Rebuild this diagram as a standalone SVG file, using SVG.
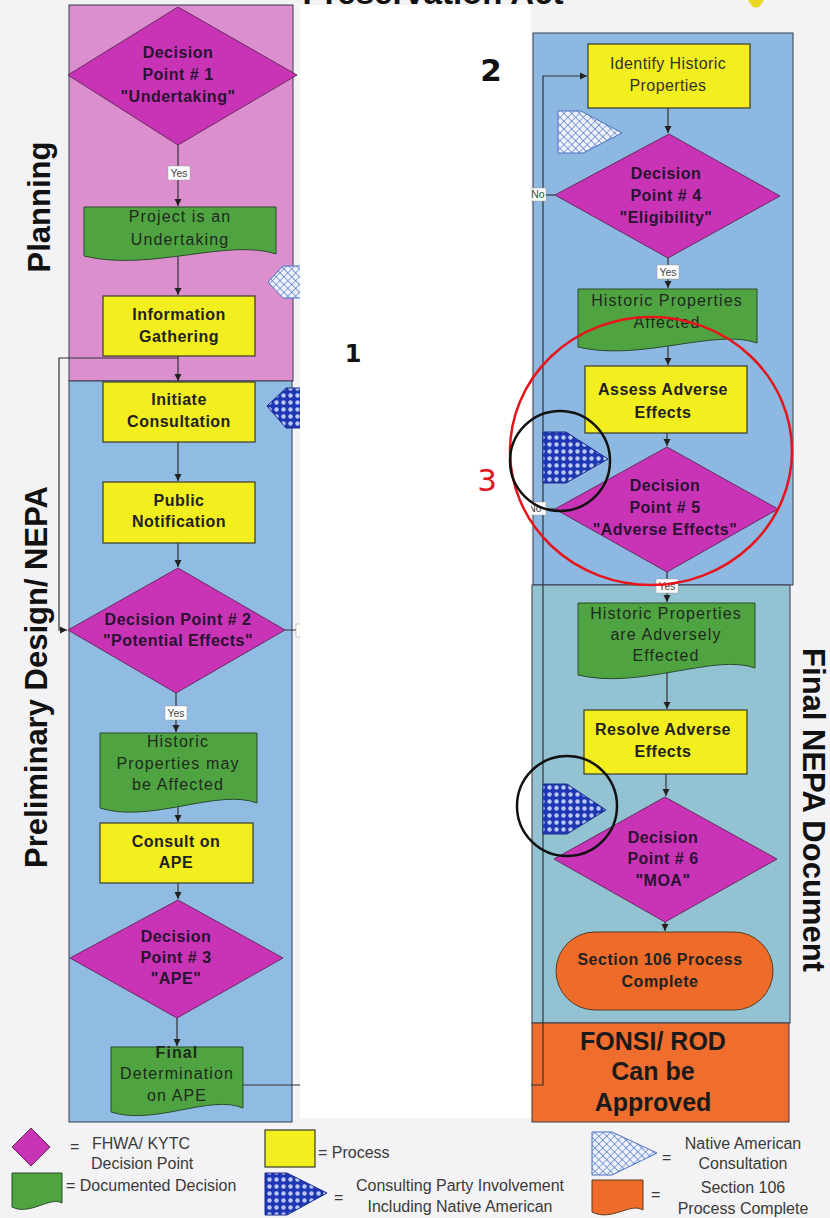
<svg xmlns="http://www.w3.org/2000/svg" width="830" height="1218" viewBox="0 0 830 1218">
<style>
.panel{stroke:#3a3a4a;stroke-width:1}
.dia{fill:#c934b6;stroke:#6a2a60;stroke-width:1}
.proc{fill:#f3ee1e;stroke:#3a3a2a;stroke-width:1.2}
.doc{fill:#4fa441;stroke:#2a4a2a;stroke-width:1}
.term{fill:#ef6b2a;stroke:#5a3a20;stroke-width:1}
.t{font-family:'Liberation Sans',Arial,sans-serif;text-anchor:middle}
.td{font-size:16px;font-weight:bold;fill:#2a1232;letter-spacing:0.5px}
.tp{font-size:16px;font-weight:bold;fill:#222;letter-spacing:0.5px}
.tr{font-size:16px;fill:#1e2a1e;letter-spacing:1.1px}
.lane{font-family:'Liberation Sans',Arial,sans-serif;font-weight:bold;font-size:31px;fill:#111;text-anchor:middle}
.con{fill:none;stroke:#333;stroke-width:1.2}
.lbl{fill:#fff;stroke:#999;stroke-width:0.5}
.lt{font-family:'Liberation Sans',Arial,sans-serif;font-size:10.5px;fill:#444;text-anchor:middle}
.leg{font-family:'Liberation Sans',Arial,sans-serif;font-size:16px;fill:#3a3a3a}
.na{fill:url(#naPat);stroke:#4a70c0;stroke-width:1}
.cp{fill:url(#cpPat);stroke:#1a2a8a;stroke-width:1}
</style>
<defs>
<marker id="ah" markerWidth="8" markerHeight="8" refX="7" refY="4" orient="auto" markerUnits="userSpaceOnUse">
<path d="M0,0.5 L7,4 L0,7.5 Z" fill="#222"/>
</marker>
<pattern id="naPat" width="5.5" height="5.5" patternUnits="userSpaceOnUse" patternTransform="rotate(45)">
<rect width="5.5" height="5.5" fill="#eef2fc"/>
<path d="M0,0 H5.5 M0,0 V5.5" stroke="#4f74c6" stroke-width="1.2"/>
</pattern>
<pattern id="cpPat" width="7" height="7" patternUnits="userSpaceOnUse">
<rect width="7" height="7" fill="#1e36b2"/>
<circle cx="3.5" cy="3.5" r="2.2" fill="#b9c8f2"/>
</pattern>
</defs>

<rect x="0" y="0" width="830" height="1218" fill="#f3f2f4"/>

<g id="panels">
<rect class="panel" x="69" y="5" width="224" height="376" fill="#db8fcf"/>
<rect class="panel" x="69" y="381" width="223" height="741" fill="#90bce4"/>
<rect class="panel" x="533" y="33" width="260" height="552" fill="#8cb8e1"/>
<rect class="panel" x="532" y="585" width="258" height="438" fill="#93c3d3"/>
<rect class="panel" x="532" y="1023" width="257" height="99" fill="#ef6e2e"/>
</g>

<g id="lane-labels">
<text class="lane" transform="translate(50,207) rotate(-90)">Planning</text>
<text class="lane" transform="translate(47,677) rotate(-90)">Preliminary Design/ NEPA</text>
<text class="lane" transform="translate(803,810) rotate(90)" font-size="30">Final NEPA Document</text>
</g>

<g id="connectors">
<path class="con" d="M178,145 V206" marker-end="url(#ah)"/>
<path class="con" d="M178,256 V295" marker-end="url(#ah)"/>
<path class="con" d="M178,356 V381" marker-end="url(#ah)"/>
<path class="con" d="M178,358 H59 V630 H67" marker-end="url(#ah)"/>
<path class="con" d="M178,442 V481" marker-end="url(#ah)"/>
<path class="con" d="M178,543 V567" marker-end="url(#ah)"/>
<path class="con" d="M285,630 H320"/>
<path class="con" d="M176,693 V732" marker-end="url(#ah)"/>
<path class="con" d="M178,806 V822" marker-end="url(#ah)"/>
<path class="con" d="M178,883 V899" marker-end="url(#ah)"/>
<path class="con" d="M177,1018 V1046" marker-end="url(#ah)"/>
<path class="con" d="M243,1085 H543 V76 H587" marker-end="url(#ah)"/>
<path class="con" d="M668,108 V133" marker-end="url(#ah)"/>
<path class="con" d="M555,195 H543"/>
<path class="con" d="M668,258 V288" marker-end="url(#ah)"/>
<path class="con" d="M668,340 V365" marker-end="url(#ah)"/>
<path class="con" d="M667,433 V446" marker-end="url(#ah)"/>
<path class="con" d="M555,509 H543"/>
<path class="con" d="M667,572 V602" marker-end="url(#ah)"/>
<path class="con" d="M667,672 V709" marker-end="url(#ah)"/>
<path class="con" d="M666,774 V796" marker-end="url(#ah)"/>
<path class="con" d="M665,922 V931" marker-end="url(#ah)"/>
<rect class="lbl" x="168" y="166" width="22" height="14"/><text class="lt" x="179" y="177">Yes</text>
<rect class="lbl" x="165" y="706" width="22" height="14"/><text class="lt" x="176" y="717">Yes</text>
<rect class="lbl" x="296" y="624" width="20" height="13"/><text class="lt" x="306" y="634">No</text>
<rect class="lbl" x="531" y="188" width="15" height="13"/><text class="lt" x="538" y="198">No</text>
<rect class="lbl" x="524" y="502" width="22" height="13"/><text class="lt" x="535" y="512">No</text>
<rect class="lbl" x="657" y="265" width="22" height="14"/><text class="lt" x="668" y="276">Yes</text>
<rect class="lbl" x="656" y="579" width="22" height="14"/><text class="lt" x="667" y="590">Yes</text>
</g>

<g id="dp1"><polygon class="dia" points="178,7 297,75 178,145 68,75"/>
<text class="t td" x="178" y="58">Decision</text><text class="t td" x="178" y="80">Point # 1</text><text class="t td" x="178" y="102">"Undertaking"</text></g>
<g id="project-undertaking"><path class="doc" d="M84,207 H276 V254 C228,238 150,272 84,256 Z"/>
<text class="t tr" x="180" y="222">Project is an</text><text class="t tr" x="180" y="245">Undertaking</text></g>
<g id="info-gathering"><rect class="proc" x="103" y="296" width="152" height="60"/>
<text class="t tp" x="179" y="320">Information</text><text class="t tp" x="179" y="342">Gathering</text></g>
<g id="initiate-consultation"><rect class="proc" x="103" y="382" width="152" height="60"/>
<text class="t tp" x="179" y="405">Initiate</text><text class="t tp" x="179" y="427">Consultation</text></g>
<g id="public-notification"><rect class="proc" x="103" y="482" width="152" height="61"/>
<text class="t tp" x="179" y="506">Public</text><text class="t tp" x="179" y="527">Notification</text></g>
<g id="dp2"><polygon class="dia" points="178,568 285,630 176,693 68,630"/>
<text class="t td" x="178" y="625" font-size="15">Decision Point # 2</text><text class="t td" x="178" y="646" font-size="15">"Potential Effects"</text></g>
<g id="historic-may"><path class="doc" d="M100,733 H257 V803 C218,788 150,824 100,808 Z"/>
<text class="t tr" x="178" y="747">Historic</text><text class="t tr" x="178" y="769">Properties may</text><text class="t tr" x="178" y="790">be Affected</text></g>
<g id="consult-ape"><rect class="proc" x="100" y="823" width="153" height="60"/>
<text class="t tp" x="176" y="847">Consult on</text><text class="t tp" x="176" y="868">APE</text></g>
<g id="dp3"><polygon class="dia" points="178,900 283,958 177,1018 70,958"/>
<text class="t td" x="176" y="942">Decision</text><text class="t td" x="176" y="963">Point # 3</text><text class="t td" x="176" y="984">"APE"</text></g>
<g id="final-determination"><path class="doc" d="M111,1047 H243 V1108 C210,1094 155,1126 111,1112 Z"/>
<text class="t tr" x="177" y="1058" font-weight="bold" letter-spacing="0">Final</text><text class="t tr" x="177" y="1079">Determination</text><text class="t tr" x="177" y="1101">on APE</text></g>

<g id="na-consult-1"><polygon class="na" points="268,282 283,266 330,266 330,298 283,298"/></g>
<g id="cp-involve-1"><polygon class="cp" points="267,406 286,388 330,388 330,428 286,428"/></g>

<g id="identify-historic"><rect class="proc" x="588" y="44" width="162" height="64"/>
<text class="t" x="668" y="69" font-size="16" fill="#333" letter-spacing="0.4">Identify Historic</text><text class="t" x="668" y="91" font-size="16" fill="#333" letter-spacing="0.4">Properties</text></g>
<g id="na-consult-2"><polygon class="na" points="558,111 581,111 622,133 583,153 558,153"/></g>
<g id="dp4"><polygon class="dia" points="669,134 780,196 668,258 555,195"/>
<text class="t td" x="666" y="179">Decision</text><text class="t td" x="666" y="201">Point # 4</text><text class="t td" x="666" y="223">"Eligibility"</text></g>
<g id="historic-affected"><path class="doc" d="M578,289 H757 V343 C715,328 640,362 578,347 Z"/>
<text class="t tr" x="667" y="306">Historic Properties</text><text class="t tr" x="667" y="328">Affected</text></g>
<g id="assess-adverse"><rect class="proc" x="585" y="366" width="162" height="67"/>
<text class="t tp" x="663" y="395">Assess Adverse</text><text class="t tp" x="663" y="418">Effects</text></g>
<g id="cp-involve-2"><polygon class="cp" points="543,432 566,432 608,459 566,483 543,483"/></g>
<g id="dp5"><polygon class="dia" points="667,447 778,509 667,572 555,509"/>
<text class="t td" x="665" y="491">Decision</text><text class="t td" x="665" y="513">Point # 5</text><text class="t td" x="665" y="535">"Adverse Effects"</text></g>
<g id="historic-adversely"><path class="doc" d="M578,603 H755 V668 C715,653 640,690 578,675 Z"/>
<text class="t tr" x="666" y="619">Historic Properties</text><text class="t tr" x="666" y="640">are Adversely</text><text class="t tr" x="666" y="661">Effected</text></g>
<g id="resolve-adverse"><rect class="proc" x="584" y="710" width="163" height="64"/>
<text class="t tp" x="663" y="735">Resolve Adverse</text><text class="t tp" x="663" y="757">Effects</text></g>
<g id="cp-involve-3"><polygon class="cp" points="543,784 567,784 606,810 567,834 543,834"/></g>
<g id="dp6"><polygon class="dia" points="665,797 777,859 665,922 554,859"/>
<text class="t td" x="663" y="843">Decision</text><text class="t td" x="663" y="864">Point # 6</text><text class="t td" x="663" y="886">"MOA"</text></g>
<g id="section106"><rect class="term" x="556" y="932" width="217" height="78" rx="39" ry="39"/>
<text class="t tp" x="660" y="965">Section 106 Process</text><text class="t tp" x="660" y="987">Complete</text></g>
<g id="fonsi-rod">
<text class="t" x="653" y="1050" font-size="25" font-weight="bold" fill="#1a1a1a">FONSI/ ROD</text>
<text class="t" x="653" y="1080" font-size="25" font-weight="bold" fill="#1a1a1a">Can be</text>
<text class="t" x="653" y="1111" font-size="25" font-weight="bold" fill="#1a1a1a">Approved</text></g>

<rect x="300" y="5" width="231" height="1113" fill="#ffffff"/>
<text class="t" x="433" y="4" font-size="33" font-weight="bold" fill="#111">Preservation Act</text>
<path d="M748,0 H764 L760,6 Q756,9 752,6 Z" fill="#e8d820"/>

<g id="annotations">
<text x="353" y="362" font-family="'DejaVu Sans',sans-serif" font-weight="bold" font-size="24" fill="#111" text-anchor="middle">1</text>
<text x="491" y="81" font-family="'DejaVu Sans',sans-serif" font-weight="bold" font-size="31" fill="#111" text-anchor="middle">2</text>
<text x="487" y="491" font-family="'DejaVu Sans',sans-serif" font-size="31" fill="#e0161e" text-anchor="middle">3</text>
<ellipse cx="651" cy="451" rx="141" ry="134" fill="none" stroke="#e8141c" stroke-width="2.5"/>
<circle cx="560" cy="461" r="50" fill="none" stroke="#111" stroke-width="2.5"/>
<circle cx="567" cy="806" r="50" fill="none" stroke="#111" stroke-width="2.5"/>
</g>

<g id="legend">
<polygon class="dia" points="31,1128 50,1147 31,1166 12,1147"/>
<text class="leg" x="70" y="1152">=</text>
<text class="leg" x="92" y="1149">FHWA/ KYTC</text>
<text class="leg" x="91" y="1169">Decision Point</text>
<path class="doc" d="M12,1173 H62 V1203 C50,1196 30,1216 12,1207 Z"/>
<text class="leg" x="66" y="1191">= Documented Decision</text>
<rect class="proc" x="265" y="1130" width="50" height="37"/>
<text class="leg" x="318" y="1158">= Process</text>
<polygon class="cp" points="265,1173 287,1173 327,1193 287,1215 265,1215"/>
<text class="leg" x="334" y="1203">=</text>
<text class="leg" x="460" y="1191" text-anchor="middle" font-size="15.5">Consulting Party Involvement</text>
<text class="leg" x="460" y="1212" text-anchor="middle" font-size="15.5">Including Native American</text>
<polygon class="na" points="592,1132 612,1132 657,1153 612,1175 592,1175"/>
<text class="leg" x="662" y="1163">=</text>
<text class="leg" x="743" y="1149" text-anchor="middle" font-size="15.5">Native American</text>
<text class="leg" x="743" y="1169" text-anchor="middle" font-size="15.5">Consultation</text>
<path class="term" d="M592,1180 H643 V1210 C630,1202 612,1222 592,1212 Z"/>
<text class="leg" x="651" y="1200">=</text>
<text class="leg" x="743" y="1193" text-anchor="middle" font-size="15.5">Section 106</text>
<text class="leg" x="743" y="1214" text-anchor="middle" font-size="15.5">Process Complete</text>
</g>
</svg>
